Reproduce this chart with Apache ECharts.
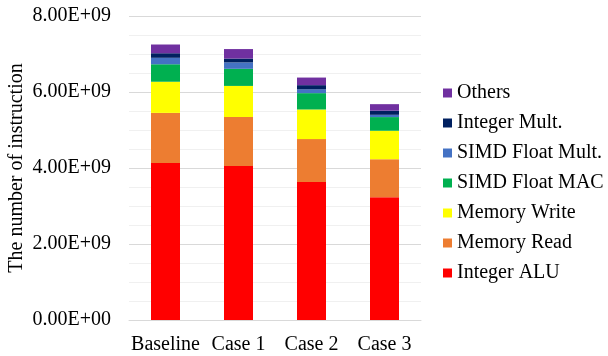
<!DOCTYPE html>
<html>
<head>
<meta charset="utf-8">
<script src="https://cdn.jsdelivr.net/npm/echarts@6/dist/echarts.min.js"></script>
<style>
  html, body { margin: 0; padding: 0; background: #ffffff; }
  #chart { width: 608px; height: 356px; }
</style>
</head>
<body>
<div id="chart"></div>
<script>
// Instruction counts per configuration, in units of 1e9 instructions
const categories = ['Baseline', 'Case 1', 'Case 2', 'Case 3'];
const integerAlu   = [4.13, 4.05, 3.63, 3.23];
const memoryRead   = [1.32, 1.29, 1.13, 1.00];
const memoryWrite  = [0.82, 0.82, 0.78, 0.75];
const simdFloatMac = [0.46, 0.45, 0.43, 0.36];
const simdFloatMul = [0.17, 0.17, 0.10, 0.06];
const integerMult  = [0.12, 0.10, 0.11, 0.11];
const others       = [0.23, 0.25, 0.20, 0.17];
const yTicks = ['0.00E+00', '2.00E+09', '4.00E+09', '6.00E+09', '8.00E+09'];

const SCALE = 1e9;
const FONT = 'Liberation Serif';

const seriesDefs = [
  { name: 'Integer ALU',      data: integerAlu,   color: '#FF0000' },
  { name: 'Memory Read',      data: memoryRead,   color: '#ED7D31' },
  { name: 'Memory Write',     data: memoryWrite,  color: '#FFFF00' },
  { name: 'SIMD Float MAC',   data: simdFloatMac, color: '#00B050' },
  { name: 'SIMD Float Mult.', data: simdFloatMul, color: '#4472C4' },
  { name: 'Integer Mult.',    data: integerMult,  color: '#002060' },
  { name: 'Others',           data: others,       color: '#7030A0' }
];

const chart = echarts.init(document.getElementById('chart'), null, { renderer: 'canvas' });

chart.setOption({
  animation: false,
  backgroundColor: '#ffffff',
  textStyle: { fontFamily: FONT, color: '#000000' },
  grid: { left: 129, right: 187, top: 16, bottom: 36 },
  legend: {
    orient: 'vertical',
    left: 438,
    top: 78,
    itemWidth: 9,
    itemHeight: 9,
    itemGap: 10,
    icon: 'rect',
    data: seriesDefs.map(s => s.name).reverse(),
    textStyle: { fontFamily: FONT, fontSize: 20, color: '#000000', lineHeight: 20 }
  },
  xAxis: {
    type: 'category',
    data: categories,
    axisLine: { lineStyle: { color: '#d9d9d9', width: 1 } },
    axisTick: { show: false },
    axisLabel: { interval: 0, fontFamily: FONT, fontSize: 20, color: '#000000', margin: 15 }
  },
  yAxis: {
    type: 'value',
    min: 0,
    max: 8 * SCALE,
    interval: 2 * SCALE,
    name: 'The number of instruction',
    nameLocation: 'middle',
    nameGap: 102,
    nameRotate: 90,
    nameTextStyle: { fontFamily: FONT, fontSize: 20, color: '#000000' },
    axisLine: { show: false },
    axisTick: { show: false },
    axisLabel: {
      fontFamily: FONT, fontSize: 20, color: '#000000', margin: 18,
      formatter: v => yTicks[Math.round(v / (2 * SCALE))]
    },
    splitLine: { lineStyle: { color: '#d9d9d9', width: 1 } },
    minorTick: { show: false, splitNumber: 4 },
    minorSplitLine: { show: true, lineStyle: { color: '#f0f0f0', width: 1 } }
  },
  series: seriesDefs.map(s => ({
    name: s.name,
    type: 'bar',
    stack: 'total',
    barWidth: 29,
    itemStyle: { color: s.color },
    data: s.data.map(v => v * SCALE)
  }))
});
</script>
</body>
</html>
